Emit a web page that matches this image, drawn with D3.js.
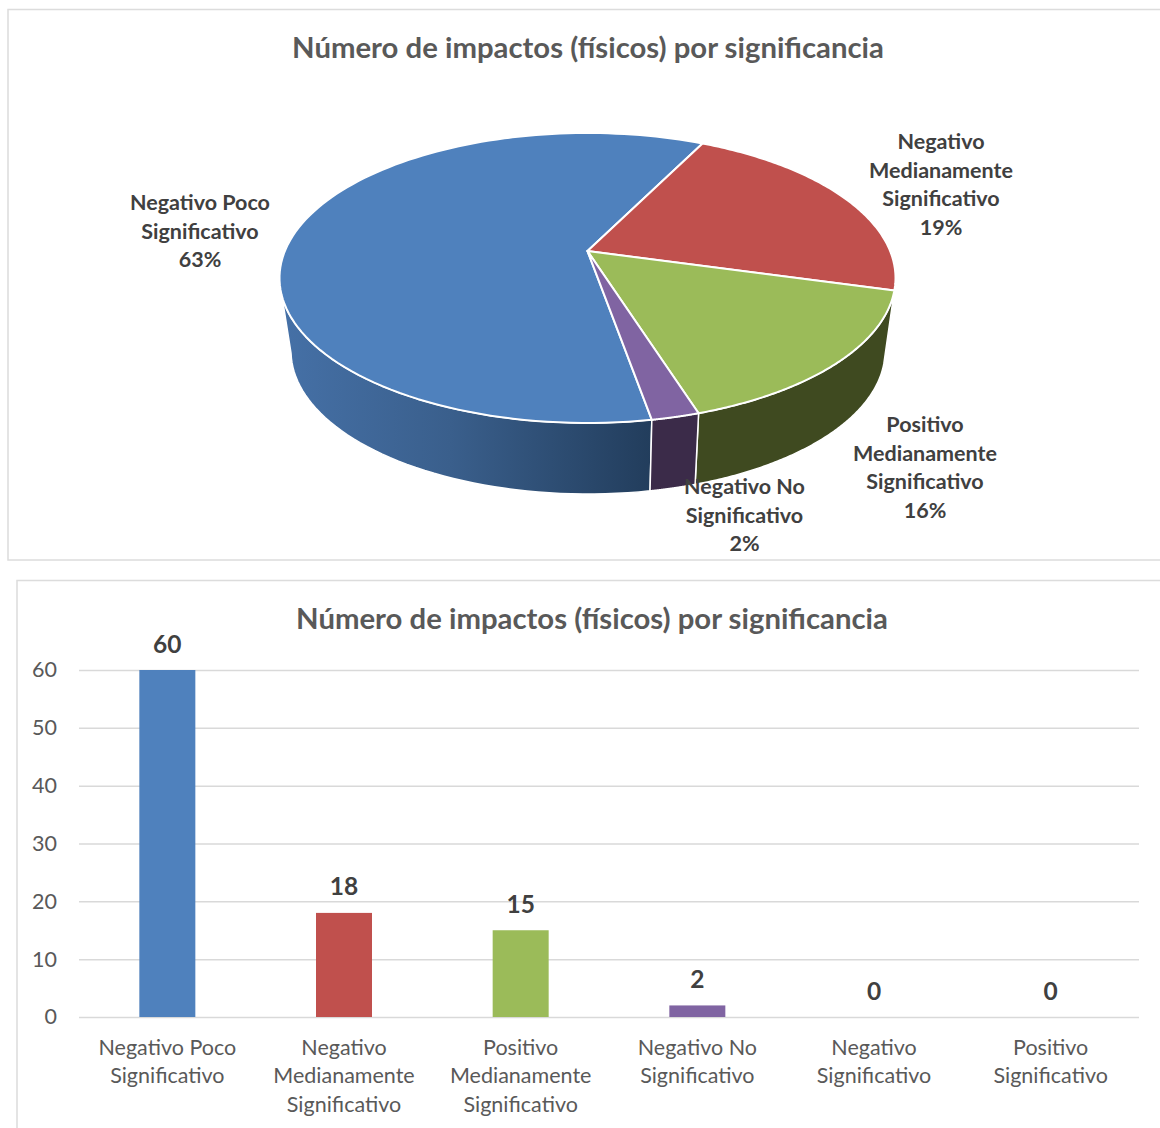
<!DOCTYPE html>
<html>
<head>
<meta charset="utf-8">
<script src="https://d3js.org/d3.v7.min.js"></script>
<style>
body { margin: 0; background: #fff; }
text { font-family: Lato, "Open Sans", sans-serif; }
.title { font-size: 29.3px; font-weight: 700; fill: #595959; text-anchor: middle; }
.pielabel { font-size: 21.5px; font-weight: 700; fill: #404040; text-anchor: middle; }
.value { font-size: 24.5px; font-weight: 700; fill: #404040; text-anchor: middle; }
.tick text { font-size: 21.5px; fill: #595959; font-family: Lato, "Open Sans", sans-serif; }
.tick line { stroke: #d9d9d9; stroke-width: 1.5; }
.frame { fill: #fff; stroke: #dcdcdc; stroke-width: 1.5; }
</style>
</head>
<body>
<script>
var titleText = "Número de impactos (físicos) por significancia";
var categories = ["Negativo Poco\nSignificativo", "Negativo\nMedianamente\nSignificativo", "Positivo\nMedianamente\nSignificativo",
    "Negativo No\nSignificativo", "Negativo\nSignificativo", "Positivo\nSignificativo"];
var values = [60, 18, 15, 2, 0, 0];
var colors = ["#4f81bd", "#c0504d", "#9bbb59", "#8064a2"];
var sideColors = ["url(#blueside)", "#6e2f2d", "#3f4a20", "#3b2b49"];
var yTicks = [0, 10, 20, 30, 40, 50, 60];

var svg = d3.select("body").append("svg")
    .attr("width", 1160)
    .attr("height", 1128);

svg.append("rect").attr("class", "frame").attr("x", 8).attr("y", 9.5).attr("width", 1170).attr("height", 550.5);
svg.append("rect").attr("class", "frame").attr("x", 17).attr("y", 580.5).attr("width", 1170).attr("height", 570);

svg.append("text").attr("class", "title").attr("x", 588).attr("y", 58).text(titleText);
svg.append("text").attr("class", "title").attr("x", 592).attr("y", 629).text(titleText);

// ---- 3D pie
var rad = Math.PI / 180;
var top_ = {cx: 587.5, cy: 278, a: 308, b: 145};
var bot = {cx: 588, cy: 351, a: 297, b: 143};
var k = 0.186; // apex sits above the ellipse centre because of the perspective

// excel squeezes the far slices, so the drawn angle is not quite the pie angle
var skew = d3.scaleLinear()
    .domain([170, 397, 465, 530])
    .range([170, 385.9, 465, 530]);

function project(deg) {
    var t = skew(deg) * rad,
        u = Math.sin(t),
        v = -Math.cos(t);
    var d = 1 - k * v;
    return [u * Math.sqrt(1 - k * k) / d, (v - k) / d];
}
function onEllipse(e, p) {
    return [e.cx + e.a * p[0], e.cy + e.b * p[1]];
}
var apex = [top_.cx, top_.cy - k * top_.b];

var slices = d3.pie().sort(null)
    .startAngle(170 * rad)
    .endAngle(530 * rad)(values.slice(0, 4));

var defs = svg.append("defs");
var grad = defs.append("linearGradient").attr("id", "blueside")
    .attr("gradientUnits", "userSpaceOnUse")
    .attr("x1", 285).attr("x2", 652).attr("y1", 0).attr("y2", 0);
grad.append("stop").attr("offset", "0%").attr("stop-color", "#4570a6");
grad.append("stop").attr("offset", "45%").attr("stop-color", "#3a5f8c");
grad.append("stop").attr("offset", "100%").attr("stop-color", "#223d5c");

var line = d3.line();

function steps(s) {
    return d3.range(0, 121).map(function (i) {
        return (s.startAngle + (s.endAngle - s.startAngle) * i / 120) / rad;
    });
}

// side wall, front half only
var side = svg.append("g");
slices.forEach(function (s, i) {
    var pts = steps(s).map(project).filter(function (p) {
        return p[1] >= 0;
    });
    if (!pts.length) return;
    var upper = pts.map(function (p) { return onEllipse(top_, p); });
    var lower = pts.map(function (p) { return onEllipse(bot, p); }).reverse();
    side.append("path")
        .attr("d", line(upper.concat(lower)) + "Z")
        .attr("fill", sideColors[i])
        .attr("stroke", "#fff")
        .attr("stroke-width", 1.5)
        .attr("stroke-linejoin", "round");
});

// top face
var face = svg.append("g");
slices.forEach(function (s, i) {
    var rim = steps(s).map(function (d) { return onEllipse(top_, project(d)); });
    face.append("path")
        .attr("d", line([apex].concat(rim)) + "Z")
        .attr("fill", colors[i])
        .attr("stroke", "#fff")
        .attr("stroke-width", 2)
        .attr("stroke-linejoin", "round");
});

var pieLabelPos = [[200, 210], [941, 149], [925, 432], [744.5, 494]];
var total = d3.sum(values);
var pct = d3.format(".0%");
pieLabelPos.forEach(function (p, i) {
    var lines = categories[i].split("\n").concat(pct(values[i] / total));
    var t = svg.append("text").attr("class", "pielabel");
    lines.forEach(function (l, j) {
        t.append("tspan")
            .attr("x", p[0])
            .attr("y", p[1] + j * 28.6)
            .text(l);
    });
});

// ---- bars
var x = d3.scaleBand()
    .domain(categories)
    .range([79, 1139])
    .paddingInner(0.683)
    .paddingOuter(0.3415);

var y = d3.scaleLinear()
    .domain([0, 60])
    .range([1017, 670]);

var yAxis = d3.axisLeft(y)
    .tickValues(yTicks)
    .tickSize(-1060)
    .tickPadding(22);

svg.append("g")
    .attr("transform", "translate(79,0)")
    .call(yAxis)
    .call(function (g) { g.select(".domain").remove(); });

var xAxis = d3.axisBottom(x).tickSize(0).tickFormat("");
var gx = svg.append("g")
    .attr("transform", "translate(0,1017)")
    .call(xAxis)
    .call(function (g) { g.select(".domain").remove(); });

gx.selectAll(".tick").each(function (d) {
    var t = d3.select(this).select("text")
        .attr("y", null).attr("dy", null)
        .attr("text-anchor", "middle");
    d.split("\n").forEach(function (l, j) {
        t.append("tspan").attr("x", 0).attr("y", 37.5 + j * 28.6).text(l);
    });
});

svg.selectAll(".bar")
    .data(categories)
    .enter().append("rect")
    .attr("class", "bar")
    .attr("x", function (d) { return x(d); })
    .attr("y", function (d, i) { return y(values[i]); })
    .attr("width", x.bandwidth())
    .attr("height", function (d, i) { return y(0) - y(values[i]); })
    .style("fill", function (d, i) { return colors[i % colors.length]; });

svg.selectAll(".value")
    .data(categories)
    .enter().append("text")
    .attr("class", "value")
    .attr("x", function (d) { return x(d) + x.bandwidth() / 2; })
    .attr("y", function (d, i) { return y(values[i]) - 17.5; })
    .text(function (d, i) { return values[i]; });
</script>
</body>
</html>
